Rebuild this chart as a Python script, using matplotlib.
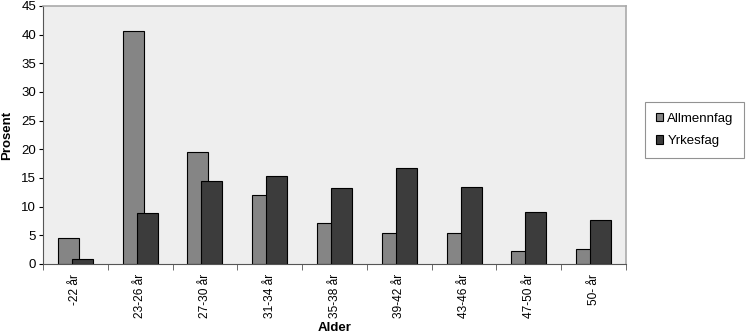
import numpy as np
import matplotlib.pyplot as plt

plt.rcParams['font.family'] = ['Liberation Sans', 'DejaVu Sans']

# data
categories = ["-22 år", "23-26 år", "27-30 år", "31-34 år", "35-38 år",
              "39-42 år", "43-46 år", "47-50 år", "50- år"]
allmennfag = [4.6, 40.7, 19.6, 12.0, 7.1, 5.4, 5.4, 2.3, 2.7]
yrkesfag = [0.8, 8.9, 14.4, 15.4, 13.3, 16.7, 13.5, 9.0, 7.6]

fig = plt.figure(figsize=(7.56, 3.35), dpi=100)
ax = fig.add_axes([43/756, 71/335, 583/756, 258/335])
ax.set_facecolor('#eeeeee')

x = np.arange(len(categories))
w = 0.324
off = 0.108
ax.bar(x - off, allmennfag, w, color='#858585', edgecolor='black', lw=0.8,
       label='Allmennfag', zorder=2)
ax.bar(x + off, yrkesfag, w, color='#3c3c3c', edgecolor='black', lw=0.8,
       label='Yrkesfag', zorder=3)

ax.set_xlim(-0.5, len(categories) - 0.5)
ax.set_ylim(0, 45)
ax.set_yticks(range(0, 46, 5))
ax.tick_params(axis='y', labelsize=9.5, length=3, pad=2)

ax.set_xticks(x)
ax.set_xticklabels(categories, rotation=90, fontsize=8.6)
ax.tick_params(axis='x', length=0, pad=7)
ax.set_xticks(np.arange(-0.5, len(categories), 1), minor=True)
ax.tick_params(axis='x', which='minor', length=4, color='#555555')

for s in ['top', 'right']:
    ax.spines[s].set_color('#aaaaaa')
    ax.spines[s].set_linewidth(1.2)
for s in ['left', 'bottom']:
    ax.spines[s].set_color('#555555')

ax.set_ylabel('Prosent', fontsize=9.5, fontweight='bold', labelpad=6)
fig.text(335/756, 1 - 328/335, 'Alder', fontsize=9.5, fontweight='bold',
         ha='center', va='center')

leg = fig.legend(loc='upper left', bbox_to_anchor=(645/756, 1 - 102/335),
                 fontsize=9.5, frameon=True, fancybox=False, edgecolor='#777777',
                 handlelength=0.6, handleheight=0.6, handletextpad=0.3,
                 labelspacing=0.8, borderpad=0.8, borderaxespad=0)
leg.get_frame().set_linewidth(0.8)

fig.savefig('out.png', dpi=100)
